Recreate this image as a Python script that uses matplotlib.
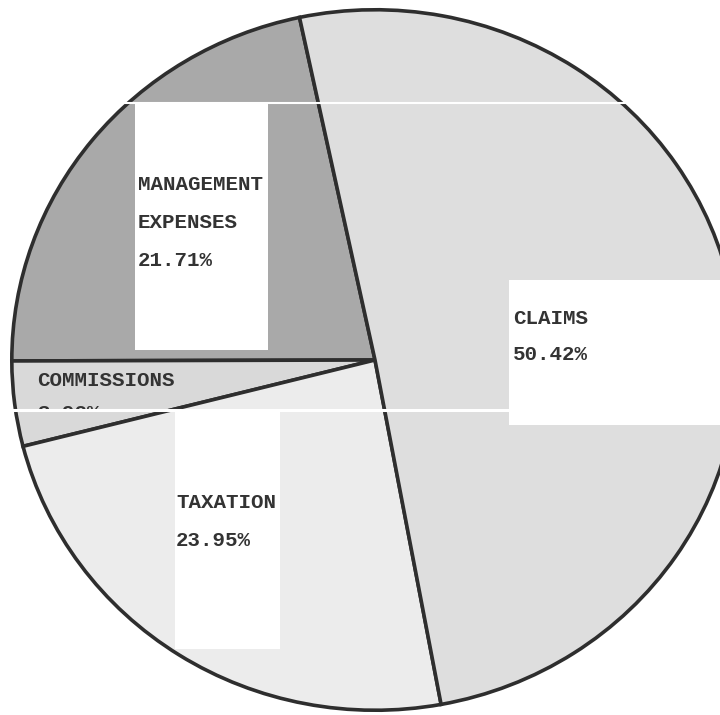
# -*- coding: utf-8 -*-
import matplotlib
matplotlib.use("Agg")
from matplotlib import pyplot as plt
from matplotlib.patches import Rectangle

# slices, counter-clockwise starting at the top-left edge
labels = ["MANAGEMENT\nEXPENSES", "COMMISSIONS", "TAXATION", "CLAIMS"]
shares = [21.71, 3.92, 23.95, 50.42]
colors = ["#a9a9a9", "#d9d9d9", "#ececec", "#dedede"]

W, H = 720, 715
fig = plt.figure(figsize=(W / 100, H / 100), dpi=100)
fig.patch.set_facecolor("white")

def fx(x):
    return x / W

def fy(y):
    # pixel row (from top) -> figure fraction
    return 1 - y / H

# pie box in pixels: left 10, right 740, top 8, bottom 712 (slightly oval scan)
ax = fig.add_axes([fx(10), fy(712), 730 / W, 704 / H])
ax.pie(shares, colors=colors, startangle=102, counterclock=True,
       radius=1, wedgeprops={"edgecolor": "#2e2e2e", "linewidth": 2.6})
ax.set_aspect("auto")
ax.set_xlim(-1.005, 1.005)
ax.set_ylim(-1.005, 1.005)
ax.axis("off")

# white label patches pasted onto the scan (x0, y0, x1, y1 in pixels)
boxes = [(135, 104, 268, 350), (509, 280, 720, 425), (175, 411, 280, 649)]
for x0, y0, x1, y1 in boxes:
    fig.add_artist(Rectangle((fx(x0), fy(y1)), fx(x1 - x0), (y1 - y0) / H,
                             transform=fig.transFigure, facecolor="white",
                             edgecolor="none"))

# scanner streaks
fig.add_artist(plt.Line2D([0, fx(650)], [fy(103), fy(103)], transform=fig.transFigure,
                          color="white", linewidth=1.5))
fig.add_artist(plt.Line2D([0, fx(510)], [fy(410), fy(410)], transform=fig.transFigure,
                          color="white", linewidth=2.2))

font = {"family": "Liberation Mono", "weight": "bold", "size": 15, "color": "#333333"}

fig.text(fx(138), fy(185), "MANAGEMENT", va="center", **font)
fig.text(fx(138), fy(223), "EXPENSES", va="center", **font)
fig.text(fx(138), fy(261), f"{shares[0]:.2f}%", va="center", **font)

fig.text(fx(513), fy(318), labels[3], va="center", **font)
fig.text(fx(513), fy(355), f"{shares[3]:.2f}%", va="center", **font)

fig.text(fx(176), fy(502), labels[2], va="center", **font)
fig.text(fx(176), fy(540), f"{shares[2]:.2f}%", va="center", **font)

fig.text(fx(37), fy(380), labels[1], va="center", **font)
# the percentage under COMMISSIONS is cut off by the streak in the scan
t = fig.text(fx(37), fy(413), f"{shares[1]:.2f}%", va="center", **font)
clip = Rectangle((0, fy(409)), fx(200), 0.1, transform=fig.transFigure)
t.set_clip_path(clip)

fig.savefig("out.png", dpi=100, facecolor="white")
